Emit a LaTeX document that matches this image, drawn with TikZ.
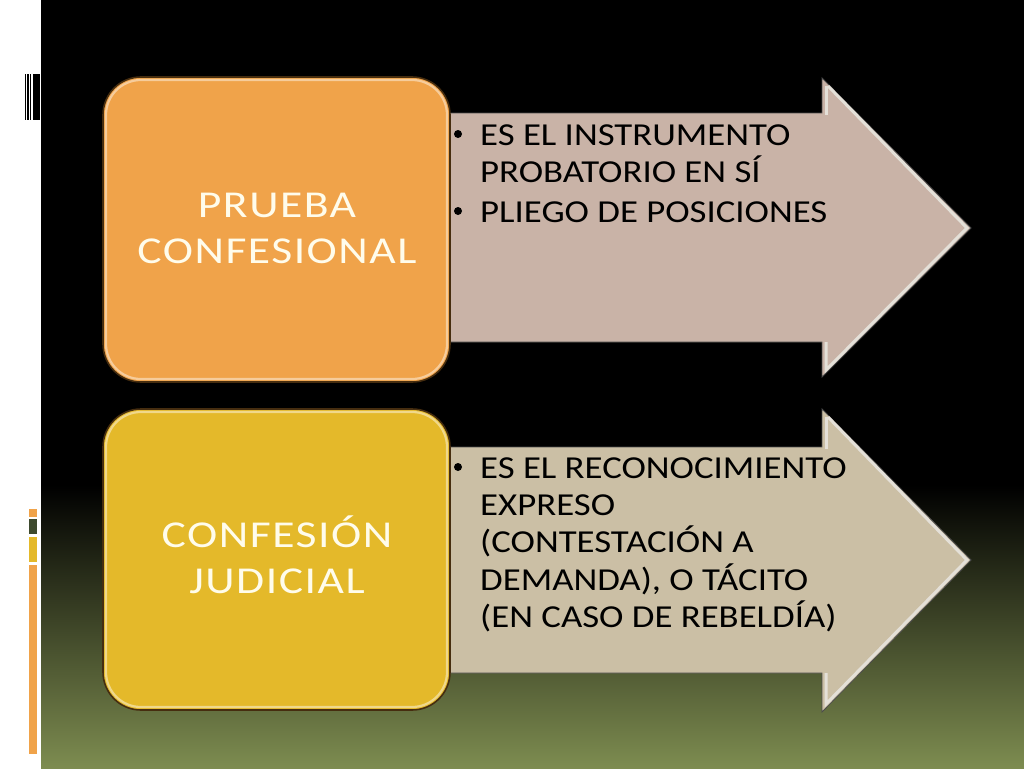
\documentclass[tikz,border=0pt]{standalone}
\usepackage{fontspec}
\setmainfont{Carlito}
\newfontfamily\arrowfont[FakeStretch=1.15]{Carlito}
\newfontfamily\boxfont[FakeStretch=1.2, LetterSpace=4]{Carlito}
\definecolor{olivebot}{RGB}{125,140,80}
\definecolor{boxorange}{RGB}{240,163,74}
\definecolor{boxyellow}{RGB}{228,185,42}
\definecolor{arrowpink}{RGB}{201,179,167}
\definecolor{arrowbeige}{RGB}{203,191,165}
\definecolor{bevel}{RGB}{228,224,216}
\definecolor{edgedark}{RGB}{70,45,15}
\definecolor{stripdark}{RGB}{62,74,46}
\definecolor{cream}{RGB}{255,252,235}
\tikzset{
  boxshape/.style={rounded corners=38pt, draw=edgedark, line width=1.6pt},
  boxhl/.style={rounded corners=35pt, draw=white, opacity=0.45, line width=2.2pt},
  arrowshape/.style={draw=black!70, line width=0.8pt},
  bevelline/.style={draw=bevel, line width=3pt, line join=miter},
  boxtext/.style={text=cream, anchor=base, inner sep=0pt, font=\boxfont\fontsize{38}{46}\selectfont},
  linetext/.style={text=black, anchor=base west, inner sep=0pt, font=\arrowfont\fontsize{32}{38}\selectfont},
  bulletdot/.style={circle, fill=black, inner sep=0pt, minimum size=8pt},
}
\begin{document}
\begin{tikzpicture}[x=1pt,y=-1pt]
\useasboundingbox (0,0) rectangle (1024,768);
% background
\fill[white] (0,0) rectangle (41,768);
\fill[black] (41,0) rectangle (1024,768);
\shade[top color=black, bottom color=olivebot] (41,485) rectangle (1024,768);
% top-left bars
\fill[black] (25,74) rectangle (26,120);
\fill[black] (27.3,74) rectangle (28.6,120);
\fill[black] (30,74) rectangle (31,120);
\fill[black] (33.3,74) rectangle (36.5,120);
\fill[black] (37.3,74) rectangle (40,120);
% bottom-left squares
\fill[boxorange] (28.7,509) rectangle (36.7,516.7);
\fill[stripdark] (28.7,519.3) rectangle (36.7,534.3);
\fill[boxyellow] (28.7,537) rectangle (36.7,562);
\fill[boxorange] (28.7,565.3) rectangle (36.7,754.3);

% arrow 1
\path[fill=arrowpink, arrowshape] (440,113) -- (822,113) -- (822,78) -- (971,228) -- (822,377) -- (822,342) -- (440,342) -- cycle;
\draw[bevelline] (826,115) -- (826,86);
\draw[bevelline] (828,86) -- (967,228) -- (826,370) -- (826,342);
% arrow 2
\path[fill=arrowbeige, arrowshape] (440,447) -- (822,447) -- (822,409) -- (971,560) -- (822,712) -- (822,673) -- (440,673) -- cycle;
\draw[bevelline] (826,449) -- (826,417);
\draw[bevelline] (828,417) -- (967,560) -- (826,704) -- (826,673);

% boxes
\draw[boxshape, fill=boxorange] (103,77) rectangle (450,382);
\draw[boxhl] (106,80) rectangle (447,379);
\draw[boxshape, fill=boxyellow] (103,409) rectangle (450,710);
\draw[boxhl] (106,412) rectangle (447,707);

\node[boxtext] (t1a) at (277,217) {PRUEBA};
\node[boxtext] (t1b) at (277,263) {CONFESIONAL};
\node[boxtext] (t2a) at (277,547) {CONFESIÓN};
\node[boxtext] (t2b) at (277,593) {JUDICIAL};

% bullets arrow 1
\node[bulletdot] (b1) at (458,134) {};
\node[linetext] (l1a) at (480,145) {ES EL INSTRUMENTO};
\node[linetext] (l1b) at (480,182) {PROBATORIO EN SÍ};
\node[bulletdot] (b2) at (458,211) {};
\node[linetext] (l2a) at (480,222) {PLIEGO DE POSICIONES};
% bullets arrow 2
\node[bulletdot] (b3) at (458,467) {};
\node[linetext] (l3a) at (480,478) {ES EL RECONOCIMIENTO};
\node[linetext] (l3b) at (480,515) {EXPRESO};
\node[linetext] (l3c) at (480,552.5) {(CONTESTACIÓN A};
\node[linetext] (l3d) at (480,590) {DEMANDA), O TÁCITO};
\node[linetext] (l3e) at (480,627) {(EN CASO DE REBELDÍA)};
\end{tikzpicture}
\end{document}
